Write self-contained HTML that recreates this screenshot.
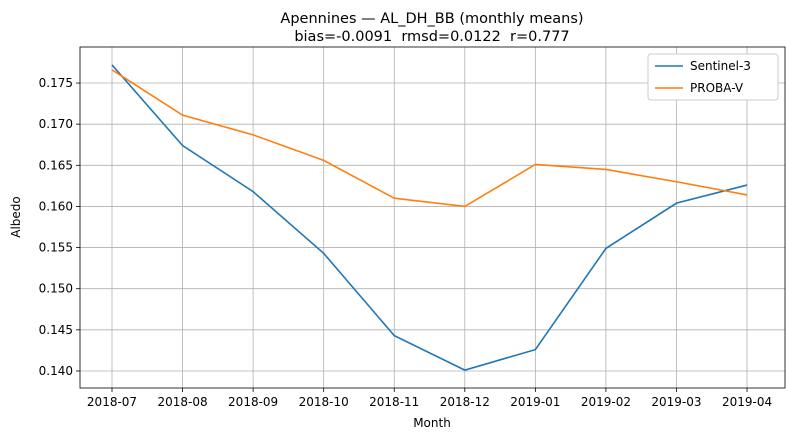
<!DOCTYPE html>
<html><head><meta charset="utf-8"><style>
body{margin:0;background:#fff;font-family:"Liberation Sans","DejaVu Sans",sans-serif;}
svg text{font-family:"DejaVu Sans","Liberation Sans",sans-serif;white-space:pre;}
</style></head><body>
<svg id="chart" width="789" height="440" xmlns="http://www.w3.org/2000/svg">
<text x="432" y="23" font-size="14.5" text-anchor="middle">Apennines — AL_DH_BB (monthly means)</text>
<text x="432" y="41" font-size="14.5" text-anchor="middle" xml:space="preserve">bias=-0.0091  rmsd=0.0122  r=0.777</text>
<g id="grid"></g><g id="axes"></g><g id="series"></g>
<text x="432" y="427" font-size="12" text-anchor="middle">Month</text>
<text x="20" y="217" font-size="12" text-anchor="middle" transform="rotate(-90 20 217)">Albedo</text>
<g>
<rect x="648" y="54" width="130" height="46" fill="#fff" stroke="#ccc" rx="3"/>
<line x1="655" y1="66" x2="683" y2="66" stroke="#1f77b4" stroke-width="1.6"/>
<text x="690" y="70" font-size="12">Sentinel-3</text>
<line x1="655" y1="88" x2="683" y2="88" stroke="#ff7f0e" stroke-width="1.6"/>
<text x="690" y="92" font-size="12">PROBA-V</text>
</g>
</svg>
<script>
const categories=["2018-07","2018-08","2018-09","2018-10","2018-11","2018-12","2019-01","2019-02","2019-03","2019-04"];
const sentinel3=[0.1772,0.1674,0.1618,0.1543,0.1443,0.1401,0.1426,0.1549,0.1604,0.1626];
const probaV=[0.1766,0.1711,0.1687,0.1656,0.1610,0.1600,0.1651,0.1645,0.1630,0.1614];
const yTicks=[0.140,0.145,0.150,0.155,0.160,0.165,0.170,0.175];
const L=80,R=785,T=47,B=388;
const xMin=-0.4535,xMax=9.538,yMin=0.13793,yMax=0.17938;
const xs=i=>L+(i-xMin)/(xMax-xMin)*(R-L);
const ys=v=>B-(v-yMin)/(yMax-yMin)*(B-T);
const NS="http://www.w3.org/2000/svg";
function mk(tag,attrs,parent){const e=document.createElementNS(NS,tag);for(const k in attrs)e.setAttribute(k,attrs[k]);parent.appendChild(e);return e;}
const grid=document.getElementById('grid'),axes=document.getElementById('axes'),ser=document.getElementById('series');
categories.forEach((c,i)=>{const x=xs(i);
const g=mk('line',{x1:x,x2:x,y1:T,y2:B,stroke:'#b0b0b0','stroke-width':0.8},grid);

mk('line',{x1:x,x2:x,y1:B,y2:B+4,stroke:'#000','stroke-width':0.8},axes);
const t=mk('text',{x:x,y:B+18,'font-size':12,'text-anchor':'middle'},axes);t.textContent=c;
});
yTicks.forEach(v=>{const y=ys(v);
const g=mk('line',{x1:L,x2:R,y1:y,y2:y,stroke:'#b0b0b0','stroke-width':0.8},grid);

mk('line',{x1:L-4,x2:L,y1:y,y2:y,stroke:'#000','stroke-width':0.8},axes);
const t=mk('text',{x:L-7,y:y+4,'font-size':12,'text-anchor':'end'},axes);t.textContent=v.toFixed(3);
});
const fr=mk('rect',{x:L,y:T,width:R-L,height:B-T,fill:'none',stroke:'#000','stroke-width':0.8},axes);

function line(vals,color,name){const p=mk('polyline',{points:vals.map((v,i)=>xs(i)+','+ys(v)).join(' '),fill:'none',stroke:color,'stroke-width':1.6},ser);
}
line(sentinel3,'#1f77b4','sentinel-3-line');
line(probaV,'#ff7f0e','proba-v-line');
</script>
</body></html>
